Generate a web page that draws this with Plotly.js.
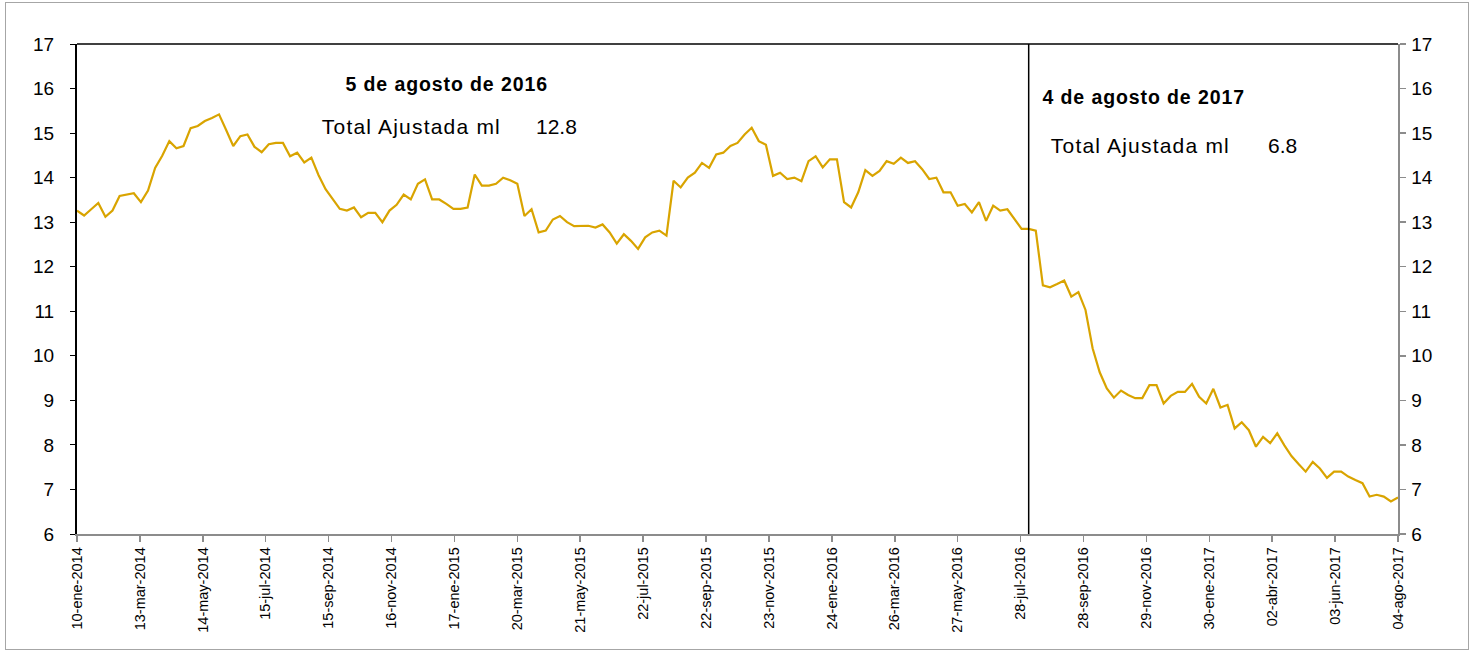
<!DOCTYPE html>
<html>
<head>
<meta charset="utf-8">
<script src="https://cdn.plot.ly/plotly-3.0.1.min.js"></script>
<style>
  html, body { margin: 0; padding: 0; background: #fff; }
  #frame { position: absolute; left: 5px; top: 2px; width: 1464px; height: 648px; border: 1px solid #a6a6a6; box-sizing: border-box; pointer-events: none; z-index: 5; }
  #chart { position: absolute; left: 0; top: 0; width: 1479px; height: 654px; }
</style>
</head>
<body>
<div id="chart"></div>
<div id="frame"></div>
<script>
// Weekly series (Fridays), first week
const startDate = '2014-01-10';
const values = [
  13.26, 13.15, 13.29, 13.43, 13.12, 13.26, 13.59, 13.62, 13.65, 13.45,
  13.71, 14.22, 14.49, 14.82, 14.66, 14.71, 15.11, 15.16, 15.27, 15.34,
  15.42, 15.07, 14.71, 14.93, 14.97, 14.69, 14.57, 14.75, 14.78, 14.78,
  14.48, 14.56, 14.34, 14.45, 14.06, 13.74, 13.52, 13.30, 13.26, 13.33,
  13.11, 13.21, 13.21, 13.00, 13.26, 13.39, 13.62, 13.51, 13.86, 13.96,
  13.51, 13.51, 13.41, 13.30, 13.30, 13.33, 14.07, 13.82, 13.82, 13.86,
  14.00, 13.94, 13.86, 13.14, 13.29, 12.77, 12.81, 13.06, 13.14, 13.00,
  12.91, 12.92, 12.92, 12.88, 12.95, 12.77, 12.52, 12.73, 12.58, 12.40,
  12.66, 12.77, 12.81, 12.70, 13.93, 13.78, 14.00, 14.11, 14.33, 14.22,
  14.52, 14.56, 14.71, 14.78, 14.97, 15.12, 14.82, 14.74, 14.04, 14.11,
  13.97, 14.00, 13.92, 14.37, 14.48, 14.23, 14.41, 14.41, 13.45, 13.33,
  13.67, 14.17, 14.04, 14.15, 14.37, 14.31, 14.45, 14.33, 14.37, 14.19,
  13.97, 14.00, 13.67, 13.67, 13.37, 13.41, 13.22, 13.45, 13.03, 13.37,
  13.26, 13.29, 13.07, 12.85, 12.85, 12.81, 11.58, 11.54, 11.61, 11.69,
  11.33, 11.43, 11.03, 10.17, 9.63, 9.27, 9.06, 9.22, 9.12, 9.05,
  9.05, 9.34, 9.34, 8.93, 9.10, 9.19, 9.19, 9.37, 9.08, 8.93,
  9.26, 8.84, 8.90, 8.37, 8.51, 8.33, 7.96, 8.18, 8.04, 8.26,
  7.99, 7.75, 7.57, 7.40, 7.62, 7.47, 7.26, 7.40, 7.40, 7.29,
  7.21, 7.14, 6.84, 6.88, 6.84, 6.73, 6.82
];

const tickDates = [
  '2014-01-10', '2014-03-13', '2014-05-14', '2014-07-15', '2014-09-15', '2014-11-16',
  '2015-01-17', '2015-03-20', '2015-05-21', '2015-07-22', '2015-09-22', '2015-11-23',
  '2016-01-24', '2016-03-26', '2016-05-27', '2016-07-28', '2016-09-28', '2016-11-29',
  '2017-01-30', '2017-04-02', '2017-06-03', '2017-08-04'
];
const tickLabels = [
  '10-ene-2014', '13-mar-2014', '14-may-2014', '15-jul-2014', '15-sep-2014', '16-nov-2014',
  '17-ene-2015', '20-mar-2015', '21-may-2015', '22-jul-2015', '22-sep-2015', '23-nov-2015',
  '24-ene-2016', '26-mar-2016', '27-may-2016', '28-jul-2016', '28-sep-2016', '29-nov-2016',
  '30-ene-2017', '02-abr-2017', '03-jun-2017', '04-ago-2017'
];

const yTicks = [6, 7, 8, 9, 10, 11, 12, 13, 14, 15, 16, 17];

const markerDate = '2016-08-05';
const noteTitles = ['5 de agosto de 2016', '4 de agosto de 2017'];
const noteLabel = 'Total Ajustada ml';
const noteValues = ['12.8', '6.8'];

// weekly dates
const dates = [];
{
  const d0 = new Date(startDate + 'T00:00:00Z');
  for (let i = 0; i < values.length; i++) {
    const d = new Date(d0.getTime() + i * 7 * 86400000);
    dates.push(d.toISOString().slice(0, 10));
  }
}

const FONT = 'Liberation Sans, Arial, sans-serif';
const W = 1479, H = 654, ML = 77, MR = 81, MT = 44, MB = 120;
const px = v => (v - ML) / (W - ML - MR);
const py = v => (H - MB - v) / (H - MT - MB);

const traces = [
  {
    x: dates, y: values, type: 'scatter', mode: 'lines',
    line: { color: '#D9A400', width: 2.2 },
    hoverinfo: 'x+y', showlegend: false
  },
  {
    x: dates, y: values, type: 'scatter', mode: 'lines', yaxis: 'y2',
    line: { color: 'rgba(0,0,0,0)', width: 0 },
    hoverinfo: 'skip', showlegend: false
  }
];

const noteFont = { size: 21, family: FONT, color: '#000' };
const boldFont = { size: 19.5, family: FONT, color: '#000' };

const layout = {
  width: W, height: H,
  margin: { l: ML, r: MR, t: MT, b: MB },
  paper_bgcolor: '#ffffff', plot_bgcolor: '#ffffff',
  font: { family: FONT, color: '#000' },
  showlegend: false,
  xaxis: {
    type: 'date',
    range: [tickDates[0], tickDates[tickDates.length - 1]],
    tickmode: 'array', tickvals: tickDates, ticktext: tickLabels,
    tickangle: -90, tickfont: { size: 14.5, family: FONT, color: '#000' },
    showgrid: false, zeroline: false,
    showline: true, linecolor: '#8c8c8c', linewidth: 1.5,
    ticks: 'outside', ticklen: 6, tickcolor: '#8c8c8c', tickwidth: 1.5
  },
  yaxis: {
    range: [6, 17], tickmode: 'array', tickvals: yTicks,
    tickfont: { size: 19, family: FONT, color: '#000' },
    showgrid: false, zeroline: false,
    showline: true, linecolor: '#000', linewidth: 2,
    ticks: 'outside', ticklen: 5, tickcolor: '#000',
    ticklabelstandoff: 12
  },
  yaxis2: {
    overlaying: 'y', side: 'right',
    range: [6, 17], tickmode: 'array', tickvals: yTicks,
    tickfont: { size: 19, family: FONT, color: '#000' },
    showgrid: false, zeroline: false,
    showline: true, linecolor: '#8c8c8c', linewidth: 1.5,
    ticks: 'outside', ticklen: 6, tickcolor: '#8c8c8c', tickwidth: 1.5,
    ticklabelstandoff: 2
  },
  shapes: [
    { type: 'line', xref: 'paper', yref: 'paper', x0: 0, x1: 1, y0: 1, y1: 1,
      line: { color: '#000', width: 1.5 } },
    { type: 'line', xref: 'x', yref: 'y', x0: markerDate, x1: markerDate, y0: 6, y1: 17,
      line: { color: '#000', width: 1.5 } }
  ],
  annotations: [
    { xref: 'paper', yref: 'paper', x: px(352), y: py(84), xanchor: 'left', yanchor: 'middle',
      text: '<b>' + noteTitles[0] + '</b>', showarrow: false, font: boldFont },
    { xref: 'paper', yref: 'paper', x: px(330), y: py(126), xanchor: 'left', yanchor: 'middle',
      text: noteLabel, showarrow: false, font: noteFont },
    { xref: 'paper', yref: 'paper', x: px(579), y: py(126), xanchor: 'right', yanchor: 'middle',
      text: noteValues[0], showarrow: false, font: noteFont },
    { xref: 'paper', yref: 'paper', x: px(1049), y: py(97), xanchor: 'left', yanchor: 'middle',
      text: '<b>' + noteTitles[1] + '</b>', showarrow: false, font: boldFont },
    { xref: 'paper', yref: 'paper', x: px(1059), y: py(145), xanchor: 'left', yanchor: 'middle',
      text: noteLabel, showarrow: false, font: noteFont },
    { xref: 'paper', yref: 'paper', x: px(1299), y: py(145), xanchor: 'right', yanchor: 'middle',
      text: noteValues[1], showarrow: false, font: noteFont }
  ]
};

Plotly.newPlot('chart', traces, layout, { displayModeBar: false, staticPlot: true }).then(gd => {
  // widen letter spacing of the text notes to match the wider glyph spacing of the reference
  gd.querySelectorAll('.annotation-text').forEach(t => {
    const s = t.textContent;
    if (s === noteLabel) t.style.letterSpacing = '1.2px';
    else if (noteTitles.includes(s)) t.style.letterSpacing = '0.9px';
  });
});
</script>
</body>
</html>
